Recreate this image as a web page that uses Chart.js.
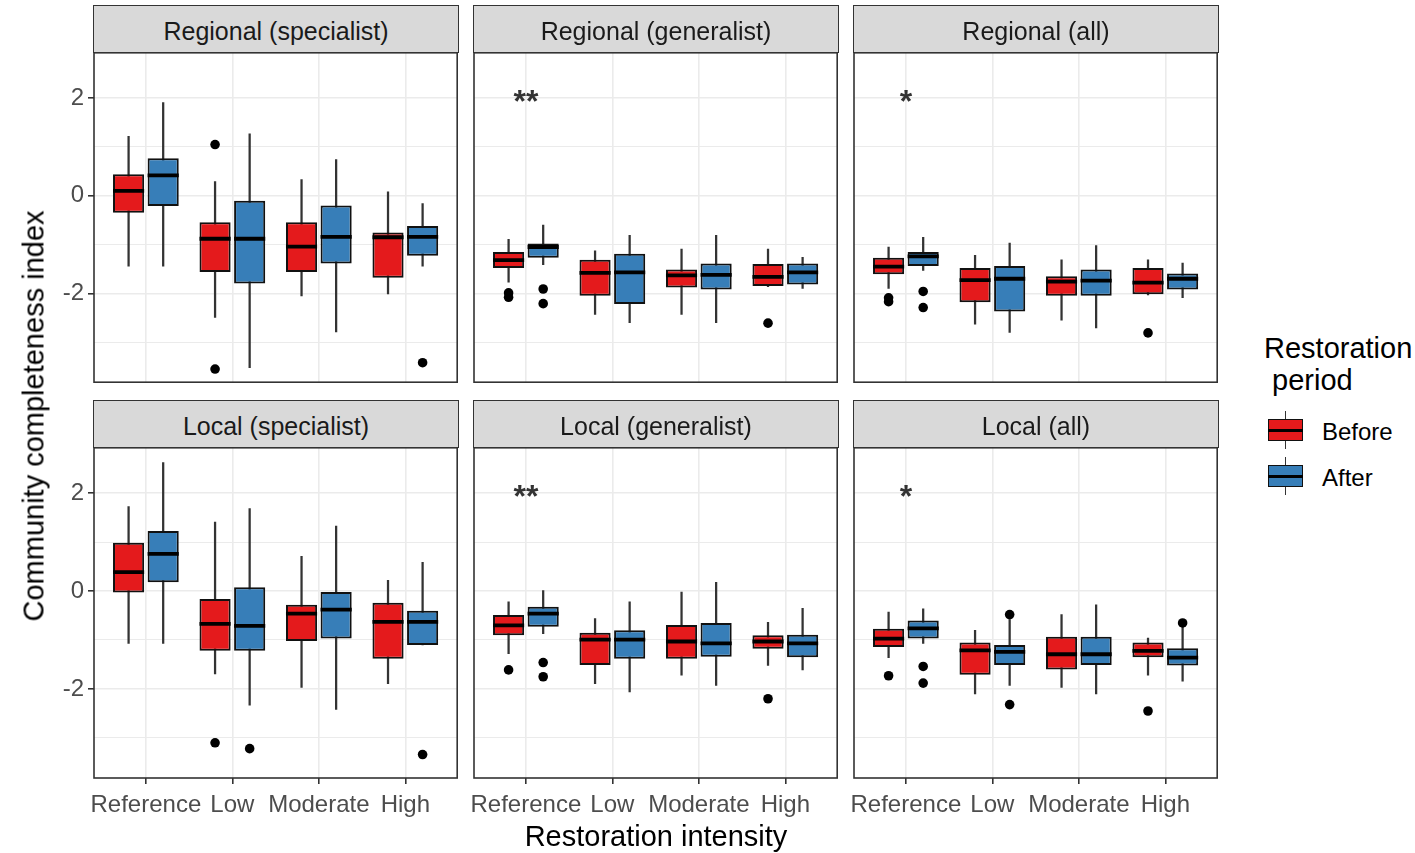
<!DOCTYPE html>
<html>
<head>
<meta charset="utf-8">
<script src="https://cdn.jsdelivr.net/npm/chart.js@4.4.1/dist/chart.umd.min.js"></script>
<style>
  html, body { margin: 0; padding: 0; background: #fff; }
  #page { position: relative; width: 1415px; height: 853px; overflow: hidden; font-family: "Liberation Sans", Arial, sans-serif; }
  .strip { position: absolute; box-sizing: border-box; background: #d9d9d9; border: 1.5px solid #333; }
  .txt { position: absolute; line-height: 1; white-space: pre; color: #000; }
  .key { position: absolute; box-sizing: border-box; }
  canvas { position: absolute; }
</style>
</head>
<body>
<div id="page"></div>
<script>
const categories = ['Reference', 'Low', 'Moderate', 'High'];
const periods = ['Before', 'After'];
const periodColors = ['#e41a1c', '#377eb8'];
const panelTitles = ['Regional (specialist)', 'Regional (generalist)', 'Regional (all)',
                     'Local (specialist)', 'Local (generalist)', 'Local (all)'];
const yTickLabels = [-2, 0, 2];
const notes = ['', '**', '*', '', '**', '*'];
const noteY = 2.1;

// one entry per category: [lower whisker, q1, median, q3, upper whisker]
const regSpecBefore = [[-1.44, -0.35, 0.10, 0.44, 1.22], [-2.49, -1.56, -0.88, -0.54, 0.29], [-2.05, -1.56, -1.04, -0.54, 0.33], [-2.01, -1.68, -0.85, -0.75, 0.08]];
const regSpecAfter  = [[-1.44, -0.21, 0.42, 0.77, 1.91], [-3.52, -1.80, -0.88, -0.10, 1.27], [-2.79, -1.39, -0.84, -0.20, 0.74], [-1.44, -1.23, -0.84, -0.62, -0.16]];
const regGenBefore  = [[-1.77, -1.48, -1.32, -1.15, -0.89], [-2.43, -2.05, -1.58, -1.31, -1.13], [-2.43, -1.88, -1.63, -1.51, -1.09], [-1.86, -1.85, -1.66, -1.40, -1.09]];
const regGenAfter   = [[-1.41, -1.27, -1.05, -0.98, -0.60], [-2.60, -2.22, -1.57, -1.19, -0.81], [-2.60, -1.92, -1.62, -1.39, -0.81], [-1.90, -1.82, -1.57, -1.39, -1.26]];
const regAllBefore  = [[-1.90, -1.61, -1.45, -1.27, -1.05], [-2.63, -2.18, -1.73, -1.48, -1.22], [-2.55, -2.05, -1.76, -1.65, -1.31], [-2.03, -2.02, -1.78, -1.48, -1.31]];
const regAllAfter   = [[-1.53, -1.44, -1.24, -1.15, -0.85], [-2.80, -2.37, -1.70, -1.44, -0.97], [-2.71, -2.05, -1.74, -1.51, -1.02], [-2.09, -1.92, -1.70, -1.59, -1.38]];
const locSpecBefore = [[-1.07, -0.03, 0.39, 0.99, 1.73], [-1.69, -1.22, -0.67, -0.16, 1.41], [-1.97, -1.02, -0.46, -0.28, 0.71], [-1.89, -1.38, -0.63, -0.24, 0.22]];
const locSpecAfter  = [[-1.07, 0.18, 0.76, 1.23, 2.63], [-2.33, -1.22, -0.71, 0.08, 1.69], [-2.42, -0.97, -0.38, 0.00, 1.33], [-1.10, -1.10, -0.63, -0.40, 0.59]];
const locGenBefore  = [[-1.28, -0.90, -0.70, -0.49, -0.22], [-1.89, -1.51, -0.99, -0.85, -0.56], [-1.72, -1.38, -1.03, -0.69, -0.02], [-1.52, -1.18, -1.03, -0.90, -0.64]];
const locGenAfter   = [[-0.87, -0.73, -0.46, -0.32, 0.01], [-2.06, -1.38, -0.99, -0.80, -0.22], [-1.93, -1.34, -1.07, -0.65, 0.18], [-1.61, -1.35, -1.07, -0.89, -0.35]];
const locAllBefore  = [[-1.36, -1.14, -0.97, -0.77, -0.43], [-2.10, -1.71, -1.21, -1.05, -0.80], [-1.97, -1.60, -1.29, -0.93, -0.48], [-1.72, -1.35, -1.22, -1.05, -0.96]];
const locAllAfter   = [[-1.07, -0.97, -0.76, -0.60, -0.36], [-1.93, -1.51, -1.24, -1.10, -0.58], [-2.10, -1.51, -1.29, -0.93, -0.28], [-1.84, -1.52, -1.36, -1.17, -0.73]];

// outliers per category
const regSpecOutBefore = [[], [1.05, -3.55], [], []];
const regSpecOutAfter  = [[], [], [], [-3.42]];
const regGenOutBefore  = [[-1.99, -2.08], [], [], [-2.61]];
const regGenOutAfter   = [[-1.91, -2.21], [], [], []];
const regAllOutBefore  = [[-2.09, -2.17], [], [], [-2.81]];
const regAllOutAfter   = [[-1.96, -2.29], [], [], []];
const locSpecOutBefore = [[], [-3.10], [], []];
const locSpecOutAfter  = [[], [-3.22], [], [-3.34]];
const locGenOutBefore  = [[-1.61], [], [], [-2.20]];
const locGenOutAfter   = [[-1.46, -1.75], [], [], []];
const locAllOutBefore  = [[-1.73], [], [], [-2.45]];
const locAllOutAfter   = [[-1.54, -1.88], [-0.48, -2.32], [], [-0.65]];

const panelStats = [
  [regSpecBefore, regSpecAfter], [regGenBefore, regGenAfter], [regAllBefore, regAllAfter],
  [locSpecBefore, locSpecAfter], [locGenBefore, locGenAfter], [locAllBefore, locAllAfter]
];
const panelOutliers = [
  [regSpecOutBefore, regSpecOutAfter], [regGenOutBefore, regGenOutAfter], [regAllOutBefore, regAllOutAfter],
  [locSpecOutBefore, locSpecOutAfter], [locGenOutBefore, locGenOutAfter], [locAllOutBefore, locAllOutAfter]
];

// layout
const FONT = '"Liberation Sans", Arial, sans-serif';
const PLOT_W = 364, PLOT_H = 331;
const colLeft = [94, 474, 854];
const rowTop = [52, 447];
const dodge = [-0.2, 0.2];   // dodge2 with width 0.8
const boxHalf = 0.18;        // half box width in category units

Chart.defaults.font.family = FONT;
Chart.defaults.animation = false;

const page = document.getElementById('page');

function addText(text, left, baseline, size, color, extra) {
  const d = document.createElement('div');
  d.className = 'txt';
  d.textContent = text;
  d.style.fontSize = size + 'px';
  d.style.left = left + 'px';
  d.style.top = (baseline - 0.8465 * size) + 'px';
  d.style.color = color || '#000';
  if (extra) Object.assign(d.style, extra);
  page.appendChild(d);
  return d;
}

const panelFrame = {
  id: 'panelFrame',
  afterDatasetsDraw(chart, args, opts) {
    const { ctx, chartArea: a, scales } = chart;
    if (opts.note) {
      const size = 32;
      ctx.save();
      ctx.font = 'bold ' + size + 'px ' + FONT;
      ctx.fillStyle = '#333';
      ctx.textAlign = 'center';
      ctx.textBaseline = 'alphabetic';
      // asterisks sit high in the em box, shift so the glyph centre is on the value
      ctx.fillText(opts.note, scales.x.getPixelForValue(0), scales.y.getPixelForValue(noteY) + 0.58 * size);
      ctx.restore();
    }
    ctx.save();
    ctx.strokeStyle = '#333';
    ctx.lineWidth = 1.6;
    ctx.strokeRect(a.left, a.top, a.right - a.left, a.bottom - a.top);
    ctx.restore();
  }
};

function buildDatasets(stats, outliers) {
  const sets = [];
  periods.forEach((name, k) => {
    const s = stats[k];
    sets.push({
      type: 'bar', label: name + ' whisker', order: 4, grouped: false,
      data: s.map((b, i) => ({ x: i + dodge[k], y: [b[0], b[4]] })),
      backgroundColor: '#333', borderWidth: 0, barThickness: 1.6
    });
    sets.push({
      type: 'bar', label: name, order: 3, grouped: false,
      data: s.map((b, i) => ({ x: i + dodge[k], y: [b[1], b[3]] })),
      backgroundColor: periodColors[k], borderColor: '#111', borderWidth: 2, borderSkipped: false,
      categoryPercentage: 1, barPercentage: 0.9
    });
    sets.push({
      type: 'scatter', label: name + ' median', order: 2,
      data: s.map((b, i) => ({ x: i + dodge[k], y: b[2] })),
      pointStyle: 'line', pointBorderColor: '#000', pointBorderWidth: 3.8,
      pointRadius: (c) => {
        const sx = c.chart.scales.x;
        return sx.getPixelForValue(boxHalf) - sx.getPixelForValue(0);
      }
    });
    sets.push({
      type: 'scatter', label: name + ' outliers', order: 1,
      data: outliers[k].flatMap((arr, i) => arr.map(v => ({ x: i + dodge[k], y: v }))),
      pointRadius: 4.8, pointBackgroundColor: '#000', pointBorderWidth: 0
    });
  });
  return sets;
}

panelTitles.forEach((title, p) => {
  const row = Math.floor(p / 3), col = p % 3;
  const showY = col === 0, showX = row === 1;
  const yW = showY ? 58 : 0;
  const padL = showY ? 2 : 14;
  const padB = showX ? 0 : 4;
  const xH = showX ? 44 : 0;

  // strip
  const strip = document.createElement('div');
  strip.className = 'strip';
  strip.style.left = (colLeft[col] - 1) + 'px';
  strip.style.top = (rowTop[row] - 47) + 'px';
  strip.style.width = (PLOT_W + 2) + 'px';
  strip.style.height = '48px';
  page.appendChild(strip);
  addText(title, colLeft[col], rowTop[row] - 12, 25, '#1a1a1a', { width: PLOT_W + 'px', textAlign: 'center' });

  const canvas = document.createElement('canvas');
  const cw = padL + yW + PLOT_W + 4;
  const ch = 4 + PLOT_H + xH + padB;
  canvas.width = cw; canvas.height = ch;
  canvas.style.width = cw + 'px'; canvas.style.height = ch + 'px';
  canvas.style.left = (colLeft[col] - yW - padL) + 'px';
  canvas.style.top = (rowTop[row] - 4) + 'px';
  page.appendChild(canvas);

  new Chart(canvas, {
    type: 'bar',
    data: { datasets: buildDatasets(panelStats[p], panelOutliers[p]) },
    options: {
      responsive: false,
      devicePixelRatio: 1,
      layout: { padding: { left: padL, right: 4, top: 4, bottom: padB } },
      plugins: {
        legend: { display: false },
        tooltip: { enabled: false },
        panelFrame: { note: notes[p] }
      },
      scales: {
        x: {
          type: 'linear', min: -0.6, max: 3.6, offset: false,
          afterFit: (s) => { s.height = xH; s.paddingLeft = 0; s.paddingRight = 0; },
          border: { display: false },
          grid: { color: '#ebebeb', lineWidth: 1.6, offset: false, drawTicks: showX,
                  tickLength: 6, tickColor: '#333', tickWidth: 1.6 },
          ticks: { display: showX, stepSize: 1, includeBounds: false, autoSkip: false, maxRotation: 0,
                   padding: 7, color: '#4d4d4d', font: { size: 24 },
                   callback: (v) => categories[v] ?? '' }
        },
        y: {
          type: 'linear', min: -3.82, max: 2.93,
          afterFit: (s) => { s.width = yW; s.paddingTop = 0; s.paddingBottom = 0; },
          border: { display: false },
          grid: { color: '#ebebeb',
                  lineWidth: (c) => (c.tick && c.tick.value % 2 === 0) ? 1.6 : 1.1,
                  drawTicks: showY, tickLength: 6, tickWidth: 1.6,
                  tickColor: (c) => (c.tick && c.tick.value % 2 === 0) ? '#333' : 'rgba(0,0,0,0)' },
          ticks: { display: showY, stepSize: 1, includeBounds: false, autoSkip: false,
                   padding: 4, color: '#4d4d4d', font: { size: 24 },
                   callback: (v) => yTickLabels.includes(v) ? String(v) : '' }
        }
      }
    },
    plugins: [panelFrame]
  });
});

// axis titles
addText('Restoration intensity', 474, 847, 29, '#000', { width: '364px', textAlign: 'center' });
const yTitle = addText('Community completeness index', 0, 0, 29, '#000');
yTitle.style.left = '34px';
yTitle.style.top = '416px';
yTitle.style.transform = 'translate(-50%, -50%) rotate(-90deg)';

// legend
addText('Restoration', 1264, 359, 29);
addText(' period', 1264, 391, 29);
function addKey(color, boxTop, label) {
  const wh = document.createElement('div');
  wh.className = 'key';
  Object.assign(wh.style, { left: '1284.7px', top: (boxTop - 8) + 'px', width: '1.6px', height: '38px', background: '#333' });
  page.appendChild(wh);
  const box = document.createElement('div');
  box.className = 'key';
  Object.assign(box.style, { left: '1268px', top: boxTop + 'px', width: '35px', height: '22px', background: color, border: '1.6px solid #111' });
  page.appendChild(box);
  const med = document.createElement('div');
  med.className = 'key';
  Object.assign(med.style, { left: '1268px', top: (boxTop + 9.5) + 'px', width: '35px', height: '3px', background: '#000' });
  page.appendChild(med);
  addText(label, 1322, boxTop + 21, 24);
}
periods.forEach((name, k) => addKey(periodColors[k], k === 0 ? 419 : 465, name));
</script>
</body>
</html>
